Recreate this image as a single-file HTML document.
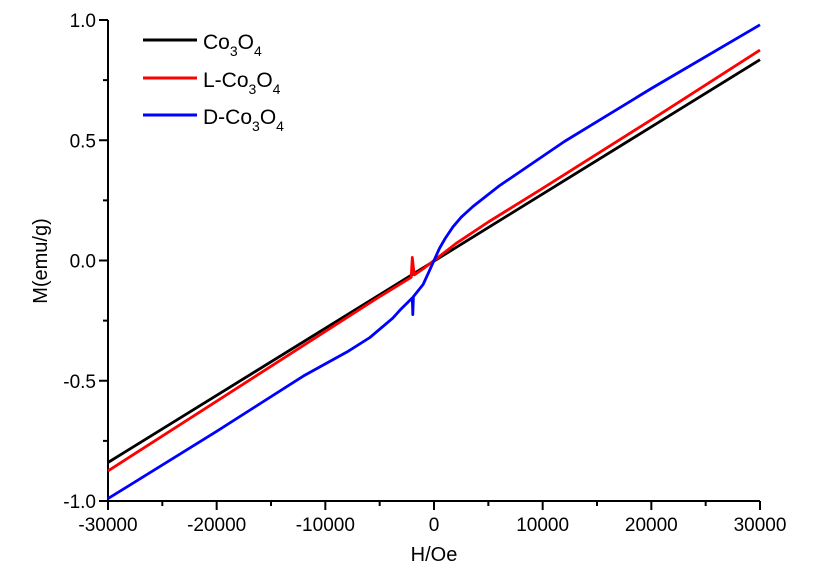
<!DOCTYPE html>
<html><head><meta charset="utf-8"><style>
body{margin:0;background:#fff;}
svg{display:block;font-family:"Liberation Sans",Arial,sans-serif;}
</style></head><body>
<svg id="chart" width="829" height="587" viewBox="0 0 829 587">
<g id="axes"></g>
<g id="series"></g>
<g font-size="21">
  <line x1="143" y1="40" x2="197" y2="40" stroke="#000" stroke-width="3"/>
  <text x="203" y="49">Co<tspan font-size="14" dy="7">3</tspan><tspan dy="-7">O</tspan><tspan font-size="14" dy="7">4</tspan></text>
  <line x1="143" y1="78" x2="197" y2="78" stroke="#f00" stroke-width="3"/>
  <text x="203" y="87">L-Co<tspan font-size="14" dy="7">3</tspan><tspan dy="-7">O</tspan><tspan font-size="14" dy="7">4</tspan></text>
  <line x1="143" y1="115" x2="197" y2="115" stroke="#00f" stroke-width="3"/>
  <text x="203" y="124">D-Co<tspan font-size="14" dy="7">3</tspan><tspan dy="-7">O</tspan><tspan font-size="14" dy="7">4</tspan></text>
</g>
<text x="434" y="561" font-size="20" text-anchor="middle">H/Oe</text>
<text x="47" y="261" font-size="20" text-anchor="middle" transform="rotate(-90 47 261)">M(emu/g)</text>
</svg>
<script>
const xTicks=[-30000,-20000,-10000,0,10000,20000,30000];
const yTicks=[-1.0,-0.5,0.0,0.5,1.0];
const yTickLabels=["-1.0","-0.5","0.0","0.5","1.0"];
const blackH=[-30000,30000];
const blackM=[-0.84,0.835];
const redH=[-30000,-20000,-10000,-5000,-2100,-2000,-1900,-1800,-1000,0,1000,2000,3000,5000,10000,20000,30000];
const redM=[-0.875,-0.585,-0.295,-0.15,-0.07,0.013,-0.03,-0.06,-0.035,0,0.035,0.07,0.1,0.16,0.3,0.585,0.875];
const blueH=[-30000,-20000,-12000,-8000,-5900,-3800,-3100,-2100,-2000,-1950,-1900,-1000,-500,0,500,1000,1750,2500,3600,6000,12000,20000,30000];
const blueM=[-0.99,-0.71,-0.48,-0.38,-0.32,-0.24,-0.205,-0.16,-0.155,-0.225,-0.15,-0.10,-0.05,0.0,0.05,0.09,0.14,0.18,0.225,0.31,0.495,0.715,0.98];
const X0=108,X1=760,Y0=501,Y1=20;
const sx=v=>X0+(v+30000)/60000*(X1-X0);
const sy=v=>Y0-(v+1)/2*(Y0-Y1);
const NS="http://www.w3.org/2000/svg";
const ax=document.getElementById('axes'), se=document.getElementById('series');
function mk(tag,attrs,parent){const e=document.createElementNS(NS,tag);for(const k in attrs)e.setAttribute(k,attrs[k]);parent.appendChild(e);return e;}
let a=mk('line',{x1:X0,y1:Y0,x2:X1,y2:Y0,stroke:'#000','stroke-width':2},ax);


a=mk('line',{x1:X0,y1:Y0+1,x2:X0,y2:Y1,stroke:'#000','stroke-width':2},ax);


xTicks.forEach((t,i)=>{
  const tk=mk('line',{x1:sx(t),y1:Y0,x2:sx(t),y2:Y0+9,stroke:'#000','stroke-width':2},ax);
  
  
  const lb=mk('text',{x:sx(t),y:Y0+30,'font-size':19,'text-anchor':'middle'},ax);
  lb.textContent=String(t);
  
  
  if(i<xTicks.length-1){
    const m=mk('line',{x1:sx(t+5000),y1:Y0,x2:sx(t+5000),y2:Y0+5,stroke:'#000','stroke-width':2},ax);
    
    
  }
});
yTicks.forEach((t,i)=>{
  const tk=mk('line',{x1:X0-9,y1:sy(t),x2:X0,y2:sy(t),stroke:'#000','stroke-width':2},ax);
  
  
  const lb=mk('text',{x:X0-12,y:sy(t)+7,'font-size':19,'text-anchor':'end'},ax);
  lb.textContent=yTickLabels[i];
  
  
  if(i<yTicks.length-1){
    const m=mk('line',{x1:X0-5,y1:sy(t+0.25),x2:X0,y2:sy(t+0.25),stroke:'#000','stroke-width':2},ax);
    
    
  }
});
function line(H,M,color,name){
  const d=H.map((h,i)=>(i?'L':'M')+sx(h).toFixed(1)+','+sy(M[i]).toFixed(1)).join('');
  const p=mk('path',{d:d,fill:'none',stroke:color,'stroke-width':2.8,'stroke-linejoin':'round'},se);
  
  
}
line(blackH,blackM,'#000','series-co3o4');
line(redH,redM,'#f00','series-l-co3o4');
line(blueH,blueM,'#00f','series-d-co3o4');
</script>
</body></html>
